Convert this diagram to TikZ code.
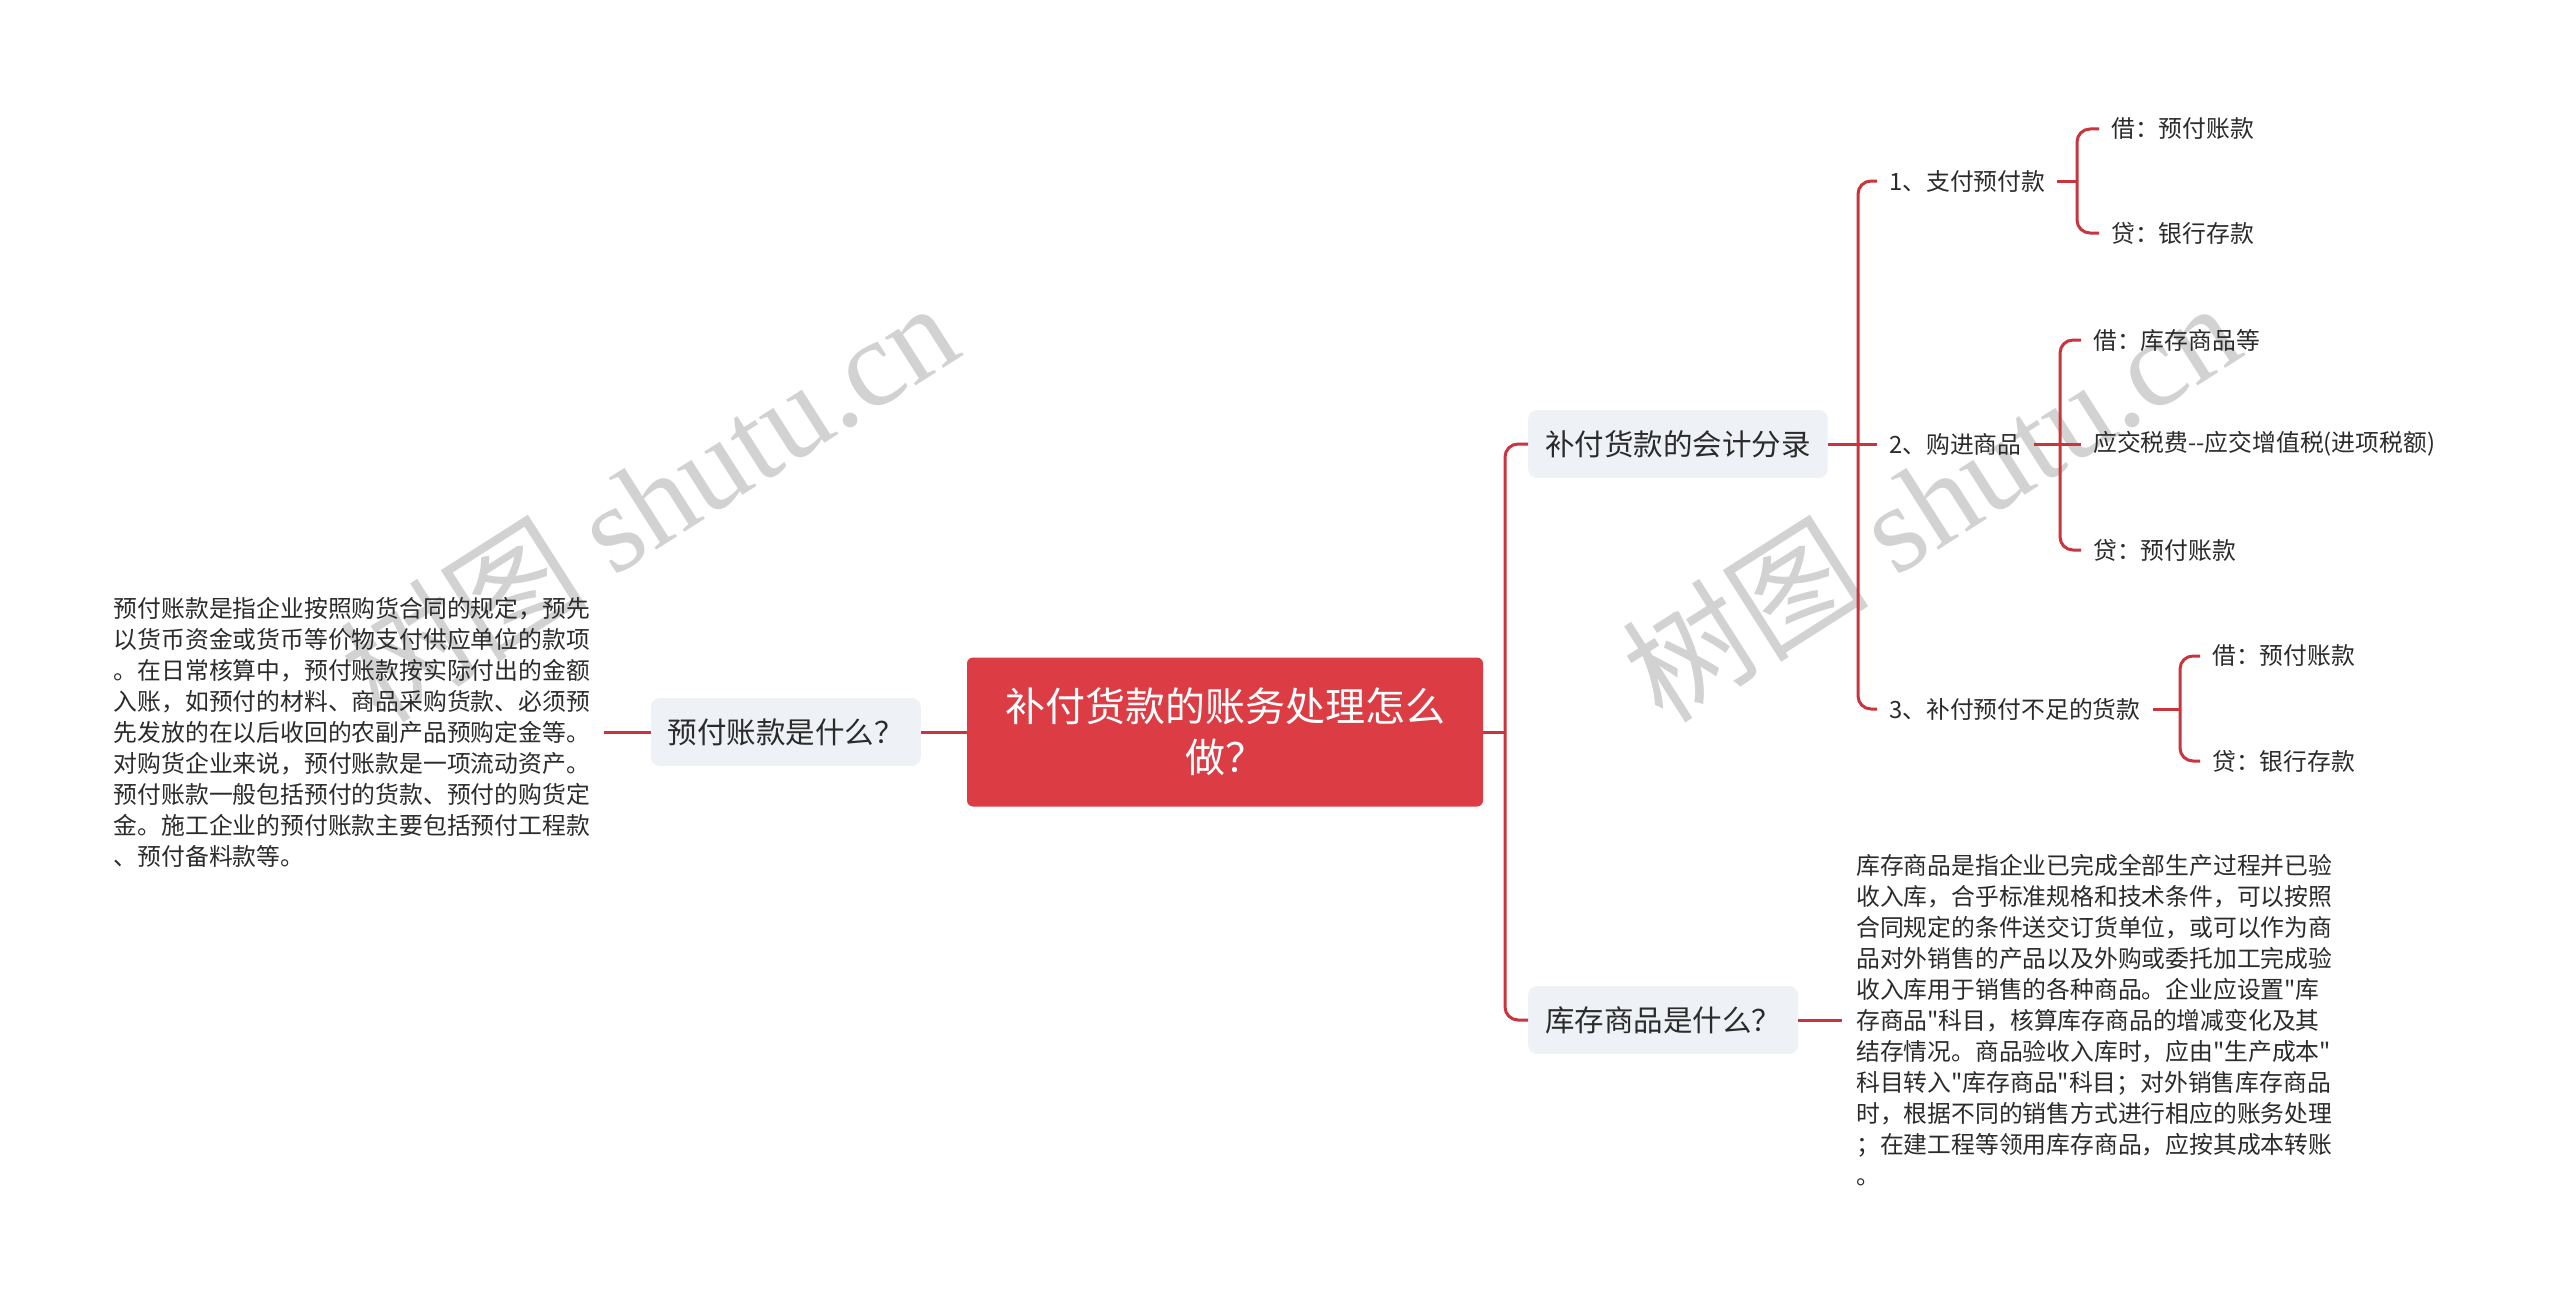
\documentclass[tikz,border=0pt]{standalone}
\usepackage{fontspec}
\setmainfont{Noto Sans CJK SC}[Ligatures=TeXOff]
\newfontfamily\wmfont{Liberation Serif}
\usepackage{xcolor}
\usetikzlibrary{positioning}

\definecolor{mainred}{HTML}{DC3D45}
\definecolor{linkred}{HTML}{C9343D}
\definecolor{boxgray}{HTML}{EEF1F5}
\definecolor{textgray}{HTML}{2B2B2B}
\definecolor{wmgray}{HTML}{D2D2D2}

\tikzset{
    link/.style={draw=linkred, line width=3pt, rounded corners=13pt},
    topic/.style={fill=mainred, rounded corners=6pt, text=white, align=center,
        font=\fontsize{40}{51}\selectfont, minimum width=516pt, minimum height=149pt},
    subtopic/.style={fill=boxgray, rounded corners=9pt, text=textgray,
        font=\fontsize{29.5}{36}\selectfont, inner xsep=17pt, minimum height=68pt},
    leaf/.style={text=textgray, font=\fontsize{23.8}{28}\selectfont, inner xsep=12pt},
    note/.style={text=textgray, align=left, inner xsep=14pt, inner ysep=8pt,
        font=\fontsize{23.8}{31}\selectfont},
    wmark/.style={text=wmgray, font=\fontsize{124}{130}\selectfont, rotate=32.5}
}

\begin{document}
\begin{tikzpicture}[x=1pt, y=-1pt]
    \useasboundingbox[fill=white] (0,0) rectangle (2560,1303);

    % watermarks
    \node[wmark] (wmleft) at (648,500) {树图 {\wmfont shutu.cn}};
    \node[wmark] (wmright) at (1930,500) {树图 {\wmfont shutu.cn}};

    % central topic
    \node[topic] (root) at (1225,732) {补付货款的账务处理怎么\\做？};

    % left side
    \node[subtopic, anchor=east] (whatprepaid) at (921,732) {预付账款是什么？};
    \node[note, anchor=east] (prepaidnote) at (604,732) {预付账款是指企业按照购货合同的规定，预先\\以货币资金或货币等价物支付供应单位的款项\\。在日常核算中，预付账款按实际付出的金额\\入账，如预付的材料、商品采购货款、必须预\\先发放的在以后收回的农副产品预购定金等。\\对购货企业来说，预付账款是一项流动资产。\\预付账款一般包括预付的货款、预付的购货定\\金。施工企业的预付账款主要包括预付工程款\\、预付备料款等。};

    % right side
    \node[subtopic, anchor=west] (entries) at (1528,444) {补付货款的会计分录};
    \node[subtopic, anchor=west] (whatstock) at (1528,1020) {库存商品是什么？};
    \node[note, anchor=west] (stocknote) at (1842,1020) {库存商品是指企业已完成全部生产过程并已验\\收入库，合乎标准规格和技术条件，可以按照\\合同规定的条件送交订货单位，或可以作为商\\品对外销售的产品以及外购或委托加工完成验\\收入库用于销售的各种商品。企业应设置"库\\存商品"科目，核算库存商品的增减变化及其\\结存情况。商品验收入库时，应由"生产成本"\\科目转入"库存商品"科目；对外销售库存商品\\时，根据不同的销售方式进行相应的账务处理\\；在建工程等领用库存商品，应按其成本转账\\。};

    % entries
    \node[leaf, anchor=west] (pay) at (1877,181) {1、支付预付款};
    \node[leaf, anchor=west] (buy) at (1877,444) {2、购进商品};
    \node[leaf, anchor=west] (topup) at (1877,709) {3、补付预付不足的货款};

    \node[leaf, anchor=west] (paydebit) at (2099,129) {借：预付账款};
    \node[leaf, anchor=west] (paycredit) at (2099,233) {贷：银行存款};
    \node[leaf, anchor=west] (buydebit) at (2081,340) {借：库存商品等};
    \node[leaf, anchor=west] (buytax) at (2081,444) {应交税费--应交增值税(进项税额)};
    \node[leaf, anchor=west] (buycredit) at (2081,550) {贷：预付账款};
    \node[leaf, anchor=west] (topupdebit) at (2200,656) {借：预付账款};
    \node[leaf, anchor=west] (topupcredit) at (2200,761) {贷：银行存款};

    % forks
    \coordinate (rootfork) at (1505,732);
    \coordinate (entriesfork) at (1858,444);
    \coordinate (payfork) at (2077,181);
    \coordinate (buyfork) at (2060,444);
    \coordinate (topupfork) at (2180,709);

    % connectors
    \draw[link] (root.west) -- (whatprepaid.east);
    \draw[link] (whatprepaid.west) -- (prepaidnote.east);
    \draw[link] (root.east) -- (rootfork);
    \draw[link] (rootfork) |- (entries.west);
    \draw[link] (rootfork) |- (whatstock.west);
    \draw[link] (whatstock.east) -- (stocknote.west);

    \draw[link] (entries.east) -- (entriesfork);
    \draw[link] (entriesfork) |- (pay.west);
    \draw[link] (entriesfork) -- (buy.west);
    \draw[link] (entriesfork) |- (topup.west);

    \draw[link] (pay.east) -- (payfork);
    \draw[link] (payfork) |- (paydebit.west);
    \draw[link] (payfork) |- (paycredit.west);

    \draw[link] (buy.east) -- (buyfork);
    \draw[link] (buyfork) |- (buydebit.west);
    \draw[link] (buyfork) -- (buytax.west);
    \draw[link] (buyfork) |- (buycredit.west);

    \draw[link] (topup.east) -- (topupfork);
    \draw[link] (topupfork) |- (topupdebit.west);
    \draw[link] (topupfork) |- (topupcredit.west);
\end{tikzpicture}
\end{document}
